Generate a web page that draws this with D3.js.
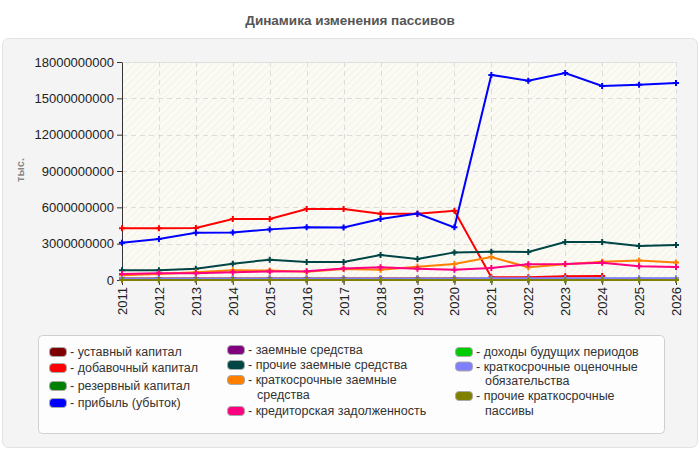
<!DOCTYPE html>
<html>
<head>
<meta charset="utf-8">
<script src="https://cdn.jsdelivr.net/npm/d3@7"></script>
<style>
    body { margin: 0; background: #fff; }
    svg { display: block; font-family: "Liberation Sans", Arial, sans-serif; }
</style>
</head>
<body>
<svg id="chart" width="700" height="450"></svg>
<script>
// years on the x axis
const years = [2011, 2012, 2013, 2014, 2015, 2016, 2017, 2018, 2019, 2020, 2021, 2022, 2023, 2024, 2025, 2026];
const yTicks = [0, 3e9, 6e9, 9e9, 12e9, 15e9, 18e9];

// series values (тыс.)
const ustavny = [0.12e9, 0.12e9, 0.12e9, 0.12e9, 0.12e9, 0.12e9, 0.12e9, 0.12e9, 0.12e9, 0.12e9, 0.1e9, 0.1e9, 0.1e9, 0.1e9, 0.1e9, 0.1e9];
const dobavochny = [4.27e9, 4.27e9, 4.3e9, 5.04e9, 5.04e9, 5.86e9, 5.86e9, 5.48e9, 5.48e9, 5.72e9, 0.22e9, 0.22e9, 0.3e9, 0.32e9, null, null];
const rezervny = [0.02e9, 0.02e9, 0.02e9, 0.02e9, 0.02e9, 0.02e9, 0.02e9, 0.02e9, 0.02e9, 0.02e9, 0.02e9, 0.02e9, 0.02e9, 0.02e9, 0.02e9, 0.02e9];
const pribyl = [3.08e9, 3.38e9, 3.9e9, 3.93e9, 4.18e9, 4.35e9, 4.33e9, 5.04e9, 5.48e9, 4.35e9, 16.93e9, 16.46e9, 17.09e9, 16.02e9, 16.13e9, 16.27e9];
const zaemnye = [0.05e9, 0.05e9, 0.05e9, 0.05e9, 0.05e9, 0.05e9, 0.05e9, 0.05e9, 0.05e9, 0.05e9, 0.05e9, 0.05e9, 0.05e9, 0.05e9, 0.05e9, 0.05e9];
const prochieZaemnye = [0.8e9, 0.8e9, 0.93e9, 1.35e9, 1.68e9, 1.49e9, 1.49e9, 2.06e9, 1.73e9, 2.28e9, 2.34e9, 2.31e9, 3.14e9, 3.14e9, 2.81e9, 2.89e9];
const kratkZaemnye = [0.4e9, 0.5e9, 0.65e9, 0.8e9, 0.78e9, 0.68e9, 0.9e9, 0.85e9, 1.1e9, 1.32e9, 1.9e9, 1.05e9, 1.3e9, 1.5e9, 1.6e9, 1.45e9];
const kreditorskaya = [0.5e9, 0.55e9, 0.55e9, 0.65e9, 0.7e9, 0.72e9, 0.95e9, 1.05e9, 0.92e9, 0.85e9, 1.0e9, 1.3e9, 1.33e9, 1.43e9, 1.13e9, 1.08e9];
const dohody = [null, null, null, null, null, null, null, null, null, null, 0.03e9, 0.03e9, 0.03e9, 0.03e9, 0.03e9, 0.03e9];
const ocenochnye = [0.1e9, 0.1e9, 0.1e9, 0.1e9, 0.1e9, 0.1e9, 0.1e9, 0.1e9, 0.1e9, 0.1e9, 0.15e9, 0.15e9, 0.15e9, 0.15e9, 0.15e9, 0.15e9];
const prochieKratk = [0, 0, 0, 0, 0, 0, 0, 0, 0, 0, 0, 0, 0, 0, 0, 0];

// legend labels, one entry per printed line
const seriesLabels = [
    ["уставный капитал"], ["добавочный капитал"], ["резервный капитал"], ["прибыль (убыток)"],
    ["заемные средства"], ["прочие заемные средства"], ["краткосрочные заемные", "средства"], ["кредиторская задолженность"],
    ["доходы будущих периодов"], ["краткосрочные оценочные", "обязательства"], ["прочие краткосрочные", "пассивы"]
];
const seriesValues = [ustavny, dobavochny, rezervny, pribyl, zaemnye, prochieZaemnye, kratkZaemnye, kreditorskaya, dohody, ocenochnye, prochieKratk];
const seriesColors = ["#800000", "#ff0000", "#008000", "#0000ff", "#800080", "#004545", "#ff8000", "#ff0080", "#00cc00", "#8080ff", "#808000"];

const series = seriesLabels.map((label, i) => ({
    label: label,
    color: seriesColors[i],
    values: years.map((yr, j) => ({ year: yr, value: seriesValues[i][j] }))
}));

const svg = d3.select("#chart");

// outer panel
svg.append("rect")
    .attr("x", 2.5).attr("y", 38.5)
    .attr("width", 695).attr("height", 409)
    .attr("rx", 6)
    .attr("fill", "#f4f4f4")
    .attr("stroke", "#e2e2e2");

svg.append("text")
    .attr("x", 350).attr("y", 25)
    .attr("text-anchor", "middle")
    .attr("font-size", "13.5px")
    .attr("font-weight", "bold")
    .attr("fill", "#555")
    .text("Динамика изменения пассивов");

const plotLeft = 122, plotRight = 676, plotTop = 62, plotBottom = 280;

const x = d3.scaleLinear().domain([years[0], years[years.length - 1]]).range([plotLeft, plotRight]);
const y = d3.scaleLinear().domain([0, 18e9]).range([plotBottom, plotTop]);

// hatched plot background
const defs = svg.append("defs");
const pat = defs.append("pattern")
    .attr("id", "hatch")
    .attr("patternUnits", "userSpaceOnUse")
    .attr("width", 5).attr("height", 5)
    .attr("patternTransform", "rotate(45)");
pat.append("rect").attr("width", 5).attr("height", 5).attr("fill", "#fbfbf4");
pat.append("line").attr("x1", 0).attr("y1", 0).attr("x2", 0).attr("y2", 5)
    .attr("stroke", "#ecece6").attr("stroke-width", 1.2);

svg.append("rect")
    .attr("x", plotLeft).attr("y", plotTop)
    .attr("width", plotRight - plotLeft).attr("height", plotBottom - plotTop)
    .attr("fill", "url(#hatch)");

svg.append("line")
    .attr("x1", plotLeft).attr("x2", plotRight).attr("y1", plotTop + 0.5).attr("y2", plotTop + 0.5)
    .attr("stroke", "#e0e0e0");

// grid
svg.append("g")
    .selectAll("line")
    .data(years.slice(1))
    .enter()
    .append("line")
    .attr("x1", d => Math.round(x(d)) + 0.5)
    .attr("x2", d => Math.round(x(d)) + 0.5)
    .attr("y1", plotTop).attr("y2", plotBottom)
    .attr("stroke", "#dcdcdc")
    .attr("stroke-dasharray", "5,4");

svg.append("g")
    .selectAll("line")
    .data(yTicks.slice(1, -1))
    .enter()
    .append("line")
    .attr("x1", plotLeft).attr("x2", plotRight)
    .attr("y1", d => Math.round(y(d)) + 0.5)
    .attr("y2", d => Math.round(y(d)) + 0.5)
    .attr("stroke", "#dcdcdc")
    .attr("stroke-dasharray", "5,4");

// axes
const yAxis = svg.append("g")
    .attr("transform", `translate(${plotLeft},0)`)
    .call(d3.axisLeft(y).tickValues(yTicks).tickFormat(d3.format("d")).tickSize(5).tickSizeOuter(0).tickPadding(3));
yAxis.selectAll("text").attr("font-size", "13px").attr("fill", "#222").attr("font-family", "Liberation Sans, Arial, sans-serif");
yAxis.selectAll("line, path").attr("stroke", "#333");

const xAxis = svg.append("g")
    .attr("transform", `translate(0,${plotBottom})`)
    .call(d3.axisBottom(x).tickValues(years).tickFormat(d3.format("d")).tickSize(5).tickSizeOuter(0));
xAxis.selectAll("line, path").attr("stroke", "#333");
xAxis.selectAll("text")
    .attr("font-size", "13px")
    .attr("fill", "#222")
    .attr("font-family", "Liberation Sans, Arial, sans-serif")
    .attr("text-anchor", "end")
    .attr("transform", "rotate(-90)")
    .attr("x", -7)
    .attr("y", 0)
    .attr("dy", "0.35em");

svg.append("text")
    .attr("transform", "translate(20,170) rotate(-90)")
    .attr("text-anchor", "middle")
    .attr("dy", "0.35em")
    .attr("font-size", "11px")
    .attr("font-weight", "bold")
    .attr("fill", "#888")
    .text("тыс.");

// lines
const line = d3.line()
    .defined(d => d.value !== null)
    .x(d => x(d.year))
    .y(d => y(d.value));

const serieG = svg.append("g")
    .selectAll("g")
    .data(series)
    .enter()
    .append("g");

serieG.append("path")
    .attr("d", d => line(d.values))
    .attr("fill", "none")
    .attr("stroke", d => d.color)
    .attr("stroke-width", 2);

serieG.selectAll(".pt")
    .data(d => d.values.filter(v => v.value !== null).map(v => ({ ...v, color: d.color })))
    .enter()
    .append("path")
    .attr("class", "pt")
    .attr("d", d3.symbol().type(d3.symbolCross).size(20))
    .attr("transform", d => `translate(${x(d.year)},${y(d.value)})`)
    .attr("fill", d => d.color);

// legend
svg.append("rect")
    .attr("x", 38.5).attr("y", 335.5)
    .attr("width", 626).attr("height", 98)
    .attr("rx", 4)
    .attr("fill", "#fdfdfd")
    .attr("stroke", "#cfcfcf");

const legendCols = [
    { x: 49, rows: [0, 1, 2, 3], ys: [352, 368, 386, 403] },
    { x: 227, rows: [4, 5, 6, 7], ys: [350, 365, 380, 411] },
    { x: 455, rows: [8, 9, 10], ys: [352, 366.5, 396] }
];

legendCols.forEach(col => {
    col.rows.forEach((idx, k) => {
        const s = series[idx];
        const g = svg.append("g").attr("transform", `translate(${col.x},${col.ys[k]})`);
        g.append("rect")
            .attr("x", 0.5).attr("y", -4.5)
            .attr("width", 17).attr("height", 9)
            .attr("rx", 3.5)
            .attr("fill", s.color)
            .attr("stroke", "#aaa")
            .attr("stroke-width", 1);
        const t = g.append("text")
            .attr("y", 0)
            .attr("dy", "0.35em")
            .attr("font-size", "12.5px")
            .attr("fill", "#333");
        s.label.forEach((ln, li) => {
            t.append("tspan")
                .attr("x", li === 0 ? 21 : 30)
                .attr("dy", li === 0 ? null : "14.5px")
                .text(li === 0 ? "- " + ln : ln);
        });
    });
});
</script>
</body>
</html>
